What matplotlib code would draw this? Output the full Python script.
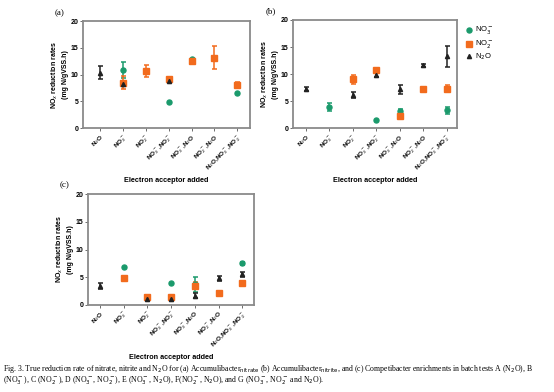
import numpy as np
import matplotlib
matplotlib.use("Agg")
import matplotlib.pyplot as plt
from matplotlib.lines import Line2D

nan = np.nan
categories = ["N$_2$O", "NO$_3^-$", "NO$_2^-$", "NO$_3^-$,NO$_2^-$",
              "NO$_3^-$,N$_2$O", "NO$_2^-$,N$_2$O", "N$_2$O,NO$_3^-$,NO$_2^-$"]
series_names = ["NO$_3^-$", "NO$_2^-$", "N$_2$O"]

# Panel (a)
a_no3 = [nan, 10.9, nan, 4.9, 12.9, nan, 6.6]
a_no3_err = [nan, 1.5, nan, 0.0, 0.0, nan, 0.0]
a_no2 = [nan, 8.5, 10.7, 9.2, 12.5, 13.2, 8.1]
a_no2_err = [nan, 1.2, 1.2, 0.4, 0.2, 2.1, 0.6]
a_n2o = [10.4, 8.2, nan, 8.9, nan, nan, nan]
a_n2o_err = [1.2, 0.4, nan, 0.2, nan, nan, nan]

# Panel (b)
b_no3 = [nan, 3.9, nan, 1.5, 3.1, nan, 3.3]
b_no3_err = [nan, 0.8, nan, 0.0, 0.4, nan, 0.6]
b_no2 = [nan, nan, 9.0, 10.7, 2.2, 7.2, 7.3]
b_no2_err = [nan, nan, 0.8, 0.3, 0.0, 0.0, 0.6]
b_n2o = [7.3, nan, 6.1, 9.9, 7.2, 11.6, 13.3]
b_n2o_err = [0.4, nan, 0.5, 0.4, 0.8, 0.3, 1.9]

# Panel (c)
c_no3 = [nan, 6.9, nan, 4.0, 3.7, nan, 7.5]
c_no3_err = [nan, 0.0, nan, 0.0, 1.4, nan, 0.3]
c_no2 = [nan, 4.9, 1.4, 1.4, 3.5, 2.1, 3.9]
c_no2_err = [nan, 0.0, 0.3, 0.2, 0.7, 0.0, 0.0]
c_n2o = [3.4, nan, 1.0, 1.0, 1.7, 4.8, 5.5]
c_n2o_err = [0.5, nan, 0.2, 0.2, 0.4, 0.4, 0.4]

colors = ["#1b9a6c", "#f26b1d", "#222222"]
markers = ["o", "s", "^"]
msizes = [3.6, 4.2, 3.0]

plt.rcParams['font.family'] = ['Liberation Sans', 'DejaVu Sans']
fig = plt.figure(figsize=(5.54, 3.92), dpi=100)

def panel(rect, data, xlim, label, legend=False):
    ax = fig.add_axes(rect)
    x = np.arange(len(categories))
    for (vals, errs), c, m, ms in zip(data, colors, markers, msizes):
        v = np.array(vals, float)
        e = np.nan_to_num(np.array(errs, float))
        ax.errorbar(x, v, yerr=e, fmt=m, color=c, ms=ms, mec=c,
                    elinewidth=1.1, capsize=1.8, capthick=1.1)
    ax.set_xlim(*xlim)
    ax.set_ylim(0, 20)
    ax.set_yticks([0, 5, 10, 15, 20])
    ax.set_xticks(x)
    ax.set_xticklabels(categories, rotation=45, ha='right',
                       rotation_mode='anchor', fontsize=4.6, fontweight='bold')
    for t in ax.get_yticklabels():
        t.set_fontsize(5)
        t.set_fontweight('bold')
    ax.tick_params(axis='both', length=2, width=0.6, pad=1.2, color='#555555')
    for s in ax.spines.values():
        s.set_color('#8a8a8a')
        s.set_linewidth(1.3)
    ax.set_ylabel("NO$_x$ reduction rates\n(mg N/gVSS.h)", fontsize=5,
                  fontweight='bold', labelpad=1.5, linespacing=1.3)
    ax.set_xlabel("Electron acceptor added", fontsize=5.2,
                  fontweight='bold', labelpad=3)
    ax.text(-0.17, 1.04, label, transform=ax.transAxes, fontsize=6.5,
            family='Liberation Serif', va='bottom')
    if legend:
        handles = [Line2D([], [], ls='none', marker=m, color=c, ms=ms)
                   for c, m, ms in zip(colors, markers, msizes)]
        ax.legend(handles, series_names, loc='upper left',
                  bbox_to_anchor=(1.02, 1.0), frameon=False,
                  fontsize=5.5, handlelength=0.8, handletextpad=0.4,
                  labelspacing=0.15, borderaxespad=0.3)
    return ax

panel([0.150, 0.673, 0.301, 0.273],
      [(a_no3, a_no3_err), (a_no2, a_no2_err), (a_n2o, a_n2o_err)],
      (-0.75, 6.55), "(a)")
panel([0.529, 0.673, 0.296, 0.276],
      [(b_no3, b_no3_err), (b_no2, b_no2_err), (b_n2o, b_n2o_err)],
      (-0.55, 6.45), "(b)", legend=True)
panel([0.159, 0.222, 0.300, 0.283],
      [(c_no3, c_no3_err), (c_no2, c_no2_err), (c_n2o, c_n2o_err)],
      (-0.5, 6.5), "(c)")

cap1 = ("Fig. 3. True reduction rate of nitrate, nitrite and N$_2$O for (a) Accumulibacter$_{\\mathrm{nitrate}}$ "
        "(b) Accumulibacter$_{\\mathrm{nitrite}}$, and (c) Competibacter enrichments in batch tests A (N$_2$O), B")
cap2 = ("(NO$_3^-$), C (NO$_2^-$), D (NO$_3^-$, NO$_2^-$), E (NO$_3^-$, N$_2$O), F(NO$_2^-$, N$_2$O), "
        "and G (NO$_3^-$, NO$_2^-$ and N$_2$O).")
fig.text(0.006, 1 - 369 / 392, cap1, fontsize=5.6, family='Liberation Serif', va='center')
fig.text(0.006, 1 - 381 / 392, cap2, fontsize=5.6, family='Liberation Serif', va='center')

fig.savefig("out.png", dpi=100)
